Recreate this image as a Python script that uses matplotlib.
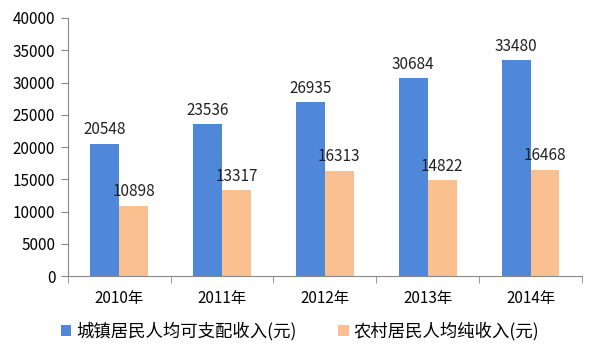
import matplotlib
matplotlib.use('Agg')
import matplotlib.pyplot as plt
import numpy as np

years = ['2010年', '2011年', '2012年', '2013年', '2014年']
urban = [20548, 23536, 26935, 30684, 33480]
rural = [10898, 13317, 16313, 14822, 16468]
urban_label = '城镇居民人均可支配收入(元)'
rural_label = '农村居民人均纯收入(元)'

plt.rcParams['font.family'] = ['Noto Sans CJK SC', 'DejaVu Sans']

fig = plt.figure(figsize=(6, 3.6), dpi=100)
ax = fig.add_axes([0.113, 0.233, 0.857, 0.717])

x = np.arange(len(years))
w = 0.28
b1 = ax.bar(x - w / 2, urban, w, color='#4f88d8', label=urban_label)
b2 = ax.bar(x + w / 2, rural, w, color='#fac090', label=rural_label)

for bars in (b1, b2):
    for r in bars:
        ax.annotate(str(int(r.get_height())), (r.get_x() + r.get_width() / 2, r.get_height()),
                    xytext=(0, 4), textcoords='offset points', ha='center', va='bottom',
                    fontsize=11, color='#222222')

ax.set_xlim(-0.5, len(years) - 0.5)
ax.set_ylim(0, 40000)
ax.set_yticks(range(0, 40001, 5000))
ax.set_xticks(x)
ax.set_xticklabels(years)
ax.set_xticks(np.arange(-0.5, len(years)), minor=True)
ax.tick_params(axis='x', which='major', length=0, pad=10, labelsize=11)
ax.tick_params(axis='x', which='minor', length=5, color='#888888')
ax.tick_params(axis='y', length=5, color='#888888', labelsize=11, pad=4)

for s in ['top', 'right']:
    ax.spines[s].set_visible(False)
ax.spines['left'].set_color('#888888')
ax.spines['bottom'].set_color('#888888')

fig.legend(loc='lower center', bbox_to_anchor=(0.5, 0.01), ncol=2, frameon=False,
           fontsize=12.5, handlelength=0.6, handleheight=0.6, handletextpad=0.3,
           columnspacing=2.4)

fig.savefig('out.png', dpi=100)
